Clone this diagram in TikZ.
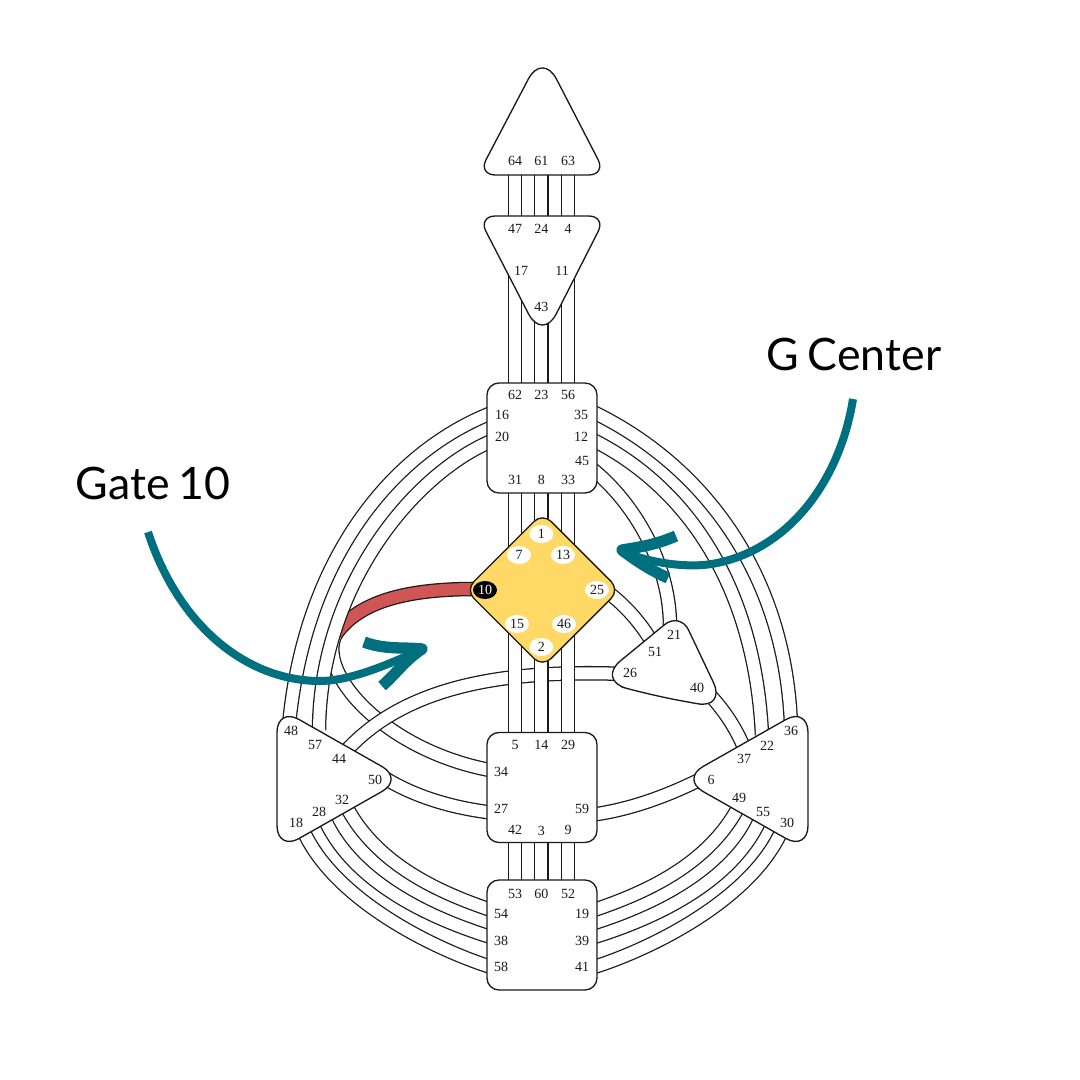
\documentclass[tikz,border=0pt]{standalone}
\usepackage{fontspec}
\setmainfont{Liberation Serif}
\newfontfamily\labelfont[WordSpace=0.75]{Lato}
\usepackage{xcolor}
\definecolor{teal}{HTML}{006F80}
\definecolor{gold}{HTML}{FFD966}
\definecolor{ink}{HTML}{1A1A1A}
\definecolor{rust}{HTML}{D05555}
\usetikzlibrary{backgrounds,shapes.geometric}
\tikzset{
  every picture/.style={line width=1pt},
  gate/.style={font=\fontsize{10.5}{10.5}\selectfont, inner sep=0pt, text=ink},
  spot/.style={gate, ellipse, fill=white, minimum width=18pt, minimum height=13.5pt},
  blackspot/.style={spot, fill=black, text=white},
  centerbox/.style={draw=ink, fill=white, line join=round},
  squarebox/.style={centerbox, rounded corners=9pt, minimum size=82.5pt, inner sep=0pt},
  channel/.style={draw=ink, line width=0.95pt, double=white, double distance=9pt},
  redchannel/.style={channel, double=rust},
  pointer/.style={draw=teal, line width=6pt},
  pointerhead/.style={draw=teal, line width=8.5pt, line join=round},
  title/.style={font=\labelfont\fontsize{33.5}{33.5}\selectfont, text=black, inner sep=0pt},
}
\begin{document}
\begin{tikzpicture}[x=0.75pt, y=-0.75pt]
  \useasboundingbox (0,0) rectangle (1080,1080);
  % centers
  \draw[centerbox] (542,175) [rounded corners=13pt] -- (478,175) [rounded corners=23pt] -- (542.5,52) [rounded corners=13pt] -- (606,175) -- cycle;
  \draw[centerbox] (542,216) [rounded corners=13pt] -- (478,216) [rounded corners=23pt] -- (542.5,341) [rounded corners=13pt] -- (606,216) -- cycle;
  \draw[centerbox, rounded corners=19pt] (277,779) -- (277,707) -- (404,779) -- (277,851) -- cycle;
  \draw[centerbox, rounded corners=19pt] (808,779) -- (808,707) -- (681,779) -- (808,851) -- cycle;
  \draw[centerbox] (650,695) [rounded corners=23pt] -- (597,680) [rounded corners=15pt] -- (680,612) [rounded corners=22pt] -- (726,709) -- cycle;
  \node[squarebox] (throat) at (542,438) {};
  \node[squarebox] (sacral) at (542,787.5) {};
  \node[squarebox] (root) at (542,935) {};
  \node[diamond, draw=ink, fill=gold, rounded corners=9pt, inner sep=0pt, minimum width=116pt, minimum height=116pt] (gcenter) at (542.5,590) {};
  % gate numbers
  \foreach \n/\x/\y in {64/515/161, 61/541.4/161, 63/568/161, 47/515/229, 24/541.4/229, 4/568/229,
      17/521/271, 11/562/271, 43/541.4/307, 62/515/395, 23/541.4/395, 56/568/395,
      16/502/415, 35/581/415, 20/502/437, 12/581/437, 45/582/461, 31/515/480, 8/541.4/480, 33/568/480,
      21/674/635, 51/655/652, 26/630/673, 40/697/688,
      5/515/745, 14/541.4/745, 29/568/745, 34/501/772, 27/501/809, 59/582/809, 42/515/830, 3/541.4/831, 9/568/830,
      53/515/894, 60/541.4/894, 52/568/894, 54/501/914, 19/582/914, 38/501/941, 39/582/941, 58/501/967, 41/582/967,
      48/291/731, 57/315/745, 44/339/759, 50/375/780, 32/342/800, 28/319/812, 18/296/823,
      36/791/731, 22/767/746, 37/744/759, 6/711/780, 49/739/798, 55/763/812, 30/787/823}
    \node[gate] (g\n) at (\x,\y) {\n};
  \foreach \n/\x/\y in {1/541.4/534, 7/519/555, 13/563/555, 25/597/590, 15/517/624, 46/564/624, 2/541.4/647}
    \node[spot] (g\n) at (\x,\y) {\n};
  \node[blackspot] (g10) at (485,590) {10};
  % channel ends
  \foreach \n/\x/\y in {16/494/412, 48/289/725, 20/494/440, 57/319/730, 35/591/411, 36/791/725, 12/591/439, 22/762/735,
      45/591/468, 21/670/626, 25/605/590, 51/652/642, 26/625/674, 44/345/752, 40/705/690, 37/745/750,
      6/705/777, 59/590/815, 50/380/775, 27/495/813, 34/495/771, 10/475/589,
      54/494/911, 32/346/806, 38/494/938, 28/325/820, 58/494/968, 18/303/830,
      19/591/911, 49/739/806, 39/591/938, 55/760/820, 41/591/968, 30/782/830}
    \coordinate (c\n) at (\x,\y);
  \coordinate (bend) at (336,634);
  \begin{scope}[on background layer]
    \draw[channel] (bend) .. controls (315,672) and (385,752) .. (c34);
    \draw[redchannel] (c10) .. controls (410,589) and (360,600) .. (bend);
    \draw[channel] (c26) .. controls (520,670) and (410,680) .. (c44);
    \foreach \a/\b in {g64/g47, g61/g24, g63/g4, g62/g17, g23/g43, g56/g11, g31/g7, g8/g1, g33/g13,
        g5/g15, g14/g2, g29/g46, g42/g53, g3/g60, g9/g52}
      \draw[channel] (\a.center) -- (\a.center |- \b.center);
    \draw[channel] (c16) .. controls (395,450) and (305,555) .. (c48);
    \draw[channel] (c20) .. controls (415,472) and (320,585) .. (c57);
    \draw[channel] (c35) .. controls (700,463) and (785,570) .. (c36);
    \draw[channel] (c12) .. controls (690,488) and (755,590) .. (c22);
    \draw[channel] (c45) .. controls (635,503) and (670,565) .. (c21);
    \draw[channel] (c25) .. controls (625,605) and (640,622) .. (c51);
    \draw[channel] (c40) .. controls (720,705) and (735,725) .. (c37);
    \draw[channel] (c6) .. controls (670,795) and (630,810) .. (c59);
    \draw[channel] (c50) .. controls (410,795) and (450,808) .. (c27);
    \draw[channel] (c54) .. controls (440,893) and (377,865) .. (c32);
    \draw[channel] (c38) .. controls (435,920) and (355,885) .. (c28);
    \draw[channel] (c58) .. controls (430,948) and (333,898) .. (c18);
    \draw[channel] (c19) .. controls (645,893) and (708,865) .. (c49);
    \draw[channel] (c39) .. controls (650,920) and (730,885) .. (c55);
    \draw[channel] (c41) .. controls (655,948) and (752,898) .. (c30);
  \end{scope}
  % labels and pointers
  \node[title] (gatelabel) at (153,483) {Gate 10};
  \node[title] (centerlabel) at (854,354) {G Center};
  \coordinate (gatetail) at (148,532);
  \coordinate (gatemid) at (320,681);
  \coordinate (gatetip) at (422,649);
  \coordinate (centertail) at (853,399);
  \coordinate (centermid) at (717,563);
  \coordinate (centertip) at (624,552);
  \draw[pointer] (gatetail) .. controls (180,630) and (250,681) .. (gatemid) .. controls (350,681) and (390,664) .. (gatetip);
  \draw[pointer] (centertail) .. controls (840,480) and (790,548) .. (centermid) .. controls (690,569) and (650,563) .. (centertip);
  \draw[pointerhead] (364,642) .. controls (385,650) and (405,647) .. (gatetip) .. controls (405,660) and (395,675) .. (382,686);
  \draw[pointerhead] (676,536) .. controls (655,545) and (640,547) .. (622,550) .. controls (635,560) and (650,570) .. (668,578);
\end{tikzpicture}
\end{document}
